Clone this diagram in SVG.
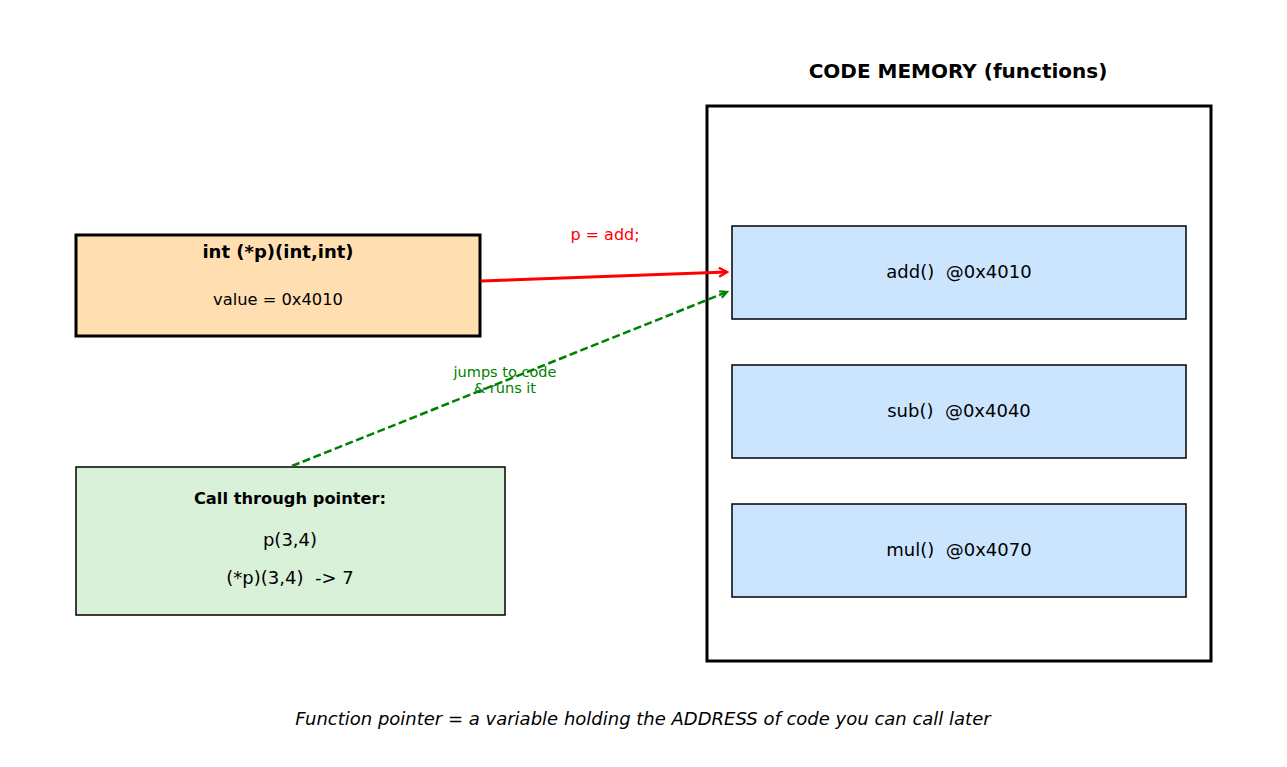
<svg xmlns="http://www.w3.org/2000/svg" width="1287" height="767" viewBox="0 0 1287 767">
<style>
text{font-family:"DejaVu Sans","Liberation Sans",sans-serif;text-anchor:middle;fill:#000;white-space:pre}
.b{font-weight:bold}
.fn{fill:#cce5ff;stroke:#000;stroke-width:1.5}
.fnt{font-size:18px}
</style>
<defs>
<marker id="ar" markerWidth="12" markerHeight="12" refX="9" refY="6" orient="auto" markerUnits="userSpaceOnUse">
<path d="M1,1.5 L9,6 L1,10.5" fill="none" stroke="#ff0000" stroke-width="2.4"/>
</marker>
<marker id="ag" markerWidth="10" markerHeight="10" refX="8" refY="5" orient="auto" markerUnits="userSpaceOnUse">
<path d="M1,1.5 L8,5 L1,8.5" fill="none" stroke="#008000" stroke-width="2.2"/>
</marker>
</defs>
<rect width="1287" height="767" fill="#fff"/>

<g id="code-memory">
<text x="958" y="78" class="b" font-size="20px">CODE MEMORY (functions)</text>
<rect x="707" y="106" width="504" height="555" fill="#fff" stroke="#000" stroke-width="3"/>
</g>
<g id="fn-add">
<rect class="fn" x="732" y="226" width="454" height="93"/>
<text class="fnt" x="959" y="278" xml:space="preserve">add()  @0x4010</text>
</g>
<g id="fn-sub">
<rect class="fn" x="732" y="365" width="454" height="93"/>
<text class="fnt" x="959" y="417" xml:space="preserve">sub()  @0x4040</text>
</g>
<g id="fn-mul">
<rect class="fn" x="732" y="504" width="454" height="93"/>
<text class="fnt" x="959" y="556" xml:space="preserve">mul()  @0x4070</text>
</g>

<g id="pointer">
<rect x="76" y="235" width="404" height="101" fill="#ffdfb2" stroke="#000" stroke-width="3"/>
<text x="278" y="258" class="b" font-size="18px">int (*p)(int,int)</text>
<text x="278" y="305" font-size="16.3px">value = 0x4010</text>
</g>

<g id="call">
<rect x="76" y="467" width="429" height="148" fill="#d9f0d9" stroke="#000" stroke-width="1.5"/>
<text x="290" y="504" class="b" font-size="16.3px">Call through pointer:</text>
<text x="290" y="546" font-size="18px">p(3,4)</text>
<text x="290" y="584" font-size="18px" xml:space="preserve">(*p)(3,4)  -&gt; 7</text>
</g>

<g id="connectors">
<line x1="481" y1="281" x2="727" y2="272" stroke="#ff0000" stroke-width="3" marker-end="url(#ar)"/>
<text x="605" y="240" font-size="16px" style="fill:#ff0000">p = add;</text>
<line x1="292" y1="466" x2="727" y2="292" stroke="#008000" stroke-width="2.5" stroke-dasharray="8,3.5" marker-end="url(#ag)"/>
<text x="505" y="377" font-size="14.5px" style="fill:#008000">jumps to code</text>
<text x="505" y="393" font-size="14.5px" style="fill:#008000">&amp; runs it</text>
</g>

<text x="643" y="725" font-size="18px" font-style="italic">Function pointer = a variable holding the ADDRESS of code you can call later</text>
</svg>
